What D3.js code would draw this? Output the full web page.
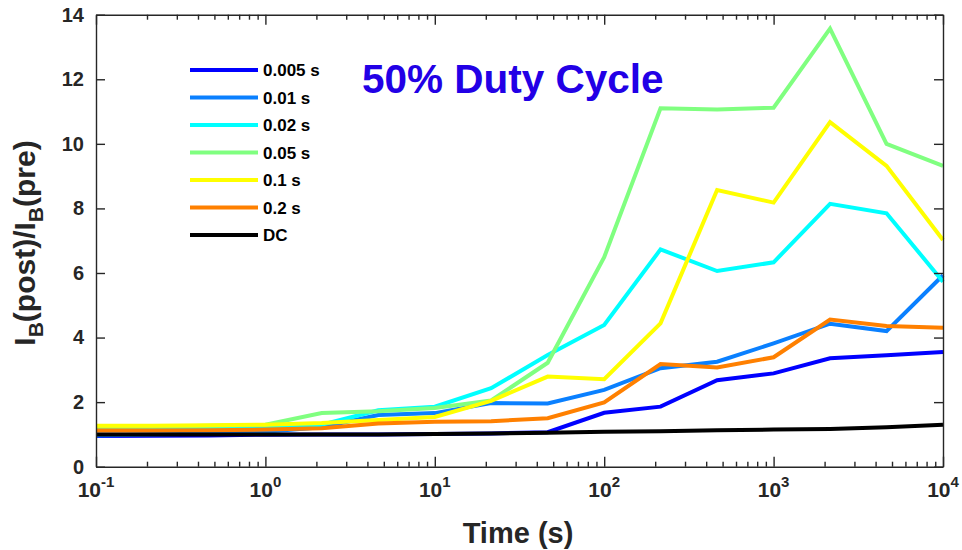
<!DOCTYPE html>
<html>
<head>
<meta charset="utf-8">
<script src="https://cdn.jsdelivr.net/npm/d3@7"></script>
<style>
  html, body { margin: 0; padding: 0; background: #fff; }
  svg { display: block; font-family: Arial, "Liberation Sans", Helvetica, sans-serif; }
</style>
</head>
<body>
<svg id="chart" width="962" height="550"></svg>
<script>
// time points (s), one per third of a decade
const times = [0.1, 0.215, 0.464, 1, 2.15, 4.64, 10, 21.5, 46.4, 100, 215, 464, 1000, 2154, 4642, 10000];

// I_B(post)/I_B(pre) for each pulse width
const s0005 = [0.95, 0.96, 0.97, 0.99, 1.0, 1.0, 1.01, 1.03, 1.07, 1.67, 1.86, 2.68, 2.89, 3.36, 3.45, 3.55];
const s001  = [0.97, 1.0, 1.03, 1.08, 1.22, 1.6, 1.66, 1.97, 1.96, 2.38, 3.05, 3.25, 3.82, 4.43, 4.2, 5.93];
const s002  = [1.18, 1.19, 1.2, 1.22, 1.3, 1.75, 1.86, 2.43, 3.46, 4.39, 6.73, 6.06, 6.33, 8.14, 7.85, 5.73];
const s005  = [1.22, 1.24, 1.27, 1.3, 1.66, 1.72, 1.82, 2.05, 3.22, 6.49, 11.1, 11.06, 11.12, 13.57, 10.0, 9.32];
const s01   = [1.27, 1.27, 1.28, 1.3, 1.35, 1.45, 1.54, 2.04, 2.79, 2.71, 4.44, 8.57, 8.18, 10.67, 9.32, 7.02];
const s02   = [1.12, 1.12, 1.13, 1.15, 1.19, 1.34, 1.39, 1.41, 1.5, 1.99, 3.18, 3.07, 3.39, 4.56, 4.36, 4.3];
const sDC   = [1.0, 1.0, 1.0, 1.0, 1.0, 1.0, 1.01, 1.03, 1.05, 1.08, 1.1, 1.13, 1.15, 1.17, 1.22, 1.3];

const seriesNames  = ["0.005 s", "0.01 s", "0.02 s", "0.05 s", "0.1 s", "0.2 s", "DC"];
const seriesValues = [s0005, s001, s002, s005, s01, s02, sDC];
const seriesColors = ["#0000ff", "#0a80ff", "#00ffff", "#80ff80", "#ffff00", "#ff8000", "#000000"];

const yTicks = [0, 2, 4, 6, 8, 10, 12, 14];
const xDecades = [-1, 0, 1, 2, 3, 4];

const svg = d3.select("#chart");
const plotLeft = 96, plotRight = 943, plotTop = 14.7, plotBottom = 466.7;
const axisColor = "#262626";

const x = d3.scaleLog().domain([0.1, 1e4]).range([plotLeft, plotRight]);
const y = d3.scaleLinear().domain([0, 14]).range([plotBottom, plotTop]);

// lines
const line = d3.line()
  .x((d, i) => x(times[i]))
  .y(d => y(d));

seriesValues.forEach((vals, k) => {
  svg.append("path")
    .datum(vals)
    .attr("fill", "none")
    .attr("stroke", seriesColors[k])
    .attr("stroke-width", 4)
    .attr("stroke-linejoin", "miter")
    .attr("d", line);
});

// axes (ticks pointing inward, box on)
const allXTicks = x.ticks();
const isDecade = v => Math.abs(Math.log10(v) - Math.round(Math.log10(v))) < 1e-9;

const xBottom = svg.append("g")
  .attr("transform", `translate(0,${plotBottom})`)
  .call(d3.axisBottom(x).tickValues(allXTicks).tickFormat("").tickSizeOuter(0));
const xTop = svg.append("g")
  .attr("transform", `translate(0,${plotTop})`)
  .call(d3.axisTop(x).tickValues(allXTicks).tickFormat("").tickSizeOuter(0));
xBottom.selectAll(".tick line").attr("y2", d => isDecade(d) ? -10 : -5);
xTop.selectAll(".tick line").attr("y2", d => isDecade(d) ? 10 : 5);

const yLeft = svg.append("g")
  .attr("transform", `translate(${plotLeft},0)`)
  .call(d3.axisLeft(y).tickValues(yTicks).tickSizeInner(-9).tickSizeOuter(0).tickPadding(12));
const yRight = svg.append("g")
  .attr("transform", `translate(${plotRight},0)`)
  .call(d3.axisRight(y).tickValues(yTicks).tickSizeInner(-9).tickSizeOuter(0).tickFormat(""));

[xBottom, xTop, yLeft, yRight].forEach(g => {
  g.selectAll("path.domain").attr("stroke", axisColor).attr("stroke-width", 1.4);
  g.selectAll(".tick line").attr("stroke", axisColor).attr("stroke-width", 1.4);
});
yLeft.selectAll(".tick text")
  .attr("fill", axisColor)
  .attr("font-size", 20)
  .attr("font-weight", "bold")
  .attr("font-family", "Arial, 'Liberation Sans', sans-serif");

// x tick labels with exponents
const xl = svg.append("g");
xDecades.forEach(e => {
  const t = xl.append("text")
    .attr("x", x(Math.pow(10, e)))
    .attr("y", 497)
    .attr("text-anchor", "middle")
    .attr("fill", axisColor)
    .attr("font-size", 21)
    .attr("font-weight", "bold");
  t.append("tspan").text("10");
  t.append("tspan").attr("dy", -10).attr("font-size", 15).text(String(e));
});

// axis titles
svg.append("text")
  .attr("x", 518)
  .attr("y", 543)
  .attr("text-anchor", "middle")
  .attr("fill", axisColor)
  .attr("font-size", 29)
  .attr("font-weight", "bold")
  .text("Time (s)");

const yl = svg.append("text")
  .attr("transform", "translate(35,243) rotate(-90)")
  .attr("text-anchor", "middle")
  .attr("fill", axisColor)
  .attr("font-size", 30)
  .attr("font-weight", "bold");
yl.append("tspan").text("I");
yl.append("tspan").attr("dy", 8).attr("font-size", 21).text("B");
yl.append("tspan").attr("dy", -8).text("(post)/I");
yl.append("tspan").attr("dy", 8).attr("font-size", 21).text("B");
yl.append("tspan").attr("dy", -8).text("(pre)");

// title
svg.append("text")
  .attr("x", 362)
  .attr("y", 93)
  .attr("fill", "#2200e6")
  .attr("font-size", 40.5)
  .attr("font-weight", "bold")
  .text("50% Duty Cycle");

// legend
const legend = svg.append("g").attr("transform", "translate(190,70)");
seriesNames.forEach((name, k) => {
  const row = legend.append("g").attr("transform", `translate(0,${k * 27.5})`);
  row.append("line")
    .attr("x1", 0).attr("x2", 68)
    .attr("stroke", seriesColors[k])
    .attr("stroke-width", 4);
  row.append("text")
    .attr("x", 73)
    .attr("y", 6)
    .attr("fill", "#000")
    .attr("font-size", 17)
    .attr("font-weight", "bold")
    .text(name);
});
</script>
</body>
</html>
